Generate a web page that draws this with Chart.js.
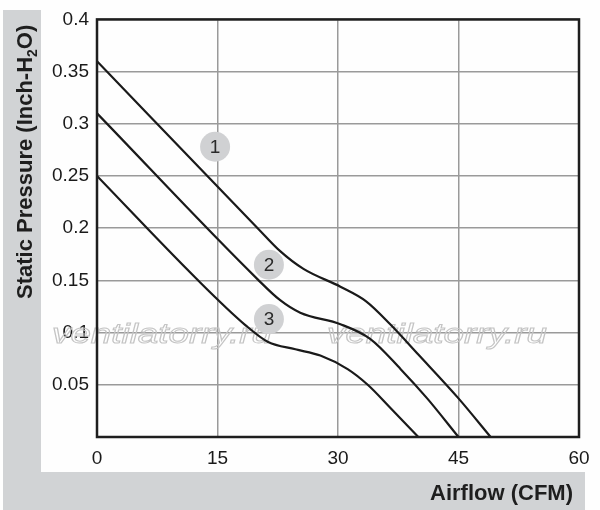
<!DOCTYPE html>
<html><head><meta charset="utf-8">
<script src="https://cdn.jsdelivr.net/npm/chart.js@4.4.1/dist/chart.umd.min.js"></script>
<style>html,body{margin:0;padding:0;background:#fefefe}#wrap{width:600px;height:510px}</style>
</head><body><div id="wrap"><canvas id="c" width="600" height="510"></canvas></div>
<script>
// Curve 1
const airflow1  = [0,    20,   22.8,  25.7,  30.3,  33.5, 36.5,  40,    45,    49];
const pressure1 = [0.36, 0.2,  0.178, 0.161, 0.144, 0.13, 0.108, 0.079, 0.037, 0];
// Curve 2
const airflow2  = [0,    20,    22.8,  25.3,  30.3,  34,    37.8,  41.1,  45];
const pressure2 = [0.31, 0.151, 0.131, 0.119, 0.108, 0.094, 0.065, 0.037, 0];
// Curve 3
const airflow3  = [0,    12.2,  18.5,  21.3,  24.7,  27.8,  31.2,  33.7, 36.5,  40];
const pressure3 = [0.25, 0.153, 0.107, 0.091, 0.084, 0.078, 0.065, 0.05, 0.028, 0];

const xTickLabels = ['0', '15', '30', '45', '60'];
const yTickLabels = ['', '0.05', '0.1', '0.15', '0.2', '0.25', '0.3', '0.35', '0.4'];

const badgeLabels = ['1', '2', '3'];
const badgeX = [14.7, 21.4, 21.4];
const badgeY = [0.278, 0.165, 0.113];

const FONT = '"Liberation Sans", Arial, Helvetica, sans-serif';

function pts(xs, ys) { return xs.map((x, i) => ({ x: x, y: ys[i] })); }

const decor = {
  id: 'decor',
  beforeDraw(chart) {
    const ctx = chart.ctx;
    ctx.save();
    ctx.fillStyle = '#fefefe';
    ctx.fillRect(0, 0, 600, 510);
    ctx.fillStyle = '#d1d3d5';
    ctx.fillRect(3, 10, 38, 500);
    ctx.fillRect(3, 472, 582, 38);
    ctx.restore();
  },
  beforeDatasetsDraw(chart) {
    const ctx = chart.ctx;
    ctx.save();
    ctx.font = 'italic 28px ' + FONT;
    ctx.strokeStyle = '#c4c4c4';
    ctx.lineWidth = 1;
    ctx.textBaseline = 'alphabetic';
    const txt = 'ventilatorry.ru';
    const w = ctx.measureText(txt).width;
    const sx = 220 / w;
    [52, 327].forEach(x0 => {
      ctx.save();
      ctx.translate(x0, 343);
      ctx.scale(sx, 1);
      ctx.strokeText(txt, 0, 0);
      ctx.restore();
    });
    ctx.restore();
  },
  afterDatasetsDraw(chart) {
    const ctx = chart.ctx;
    const a = chart.chartArea;
    ctx.save();
    ctx.strokeStyle = '#1e1e1e';
    ctx.lineWidth = 2.5;
    ctx.strokeRect(a.left, a.top, a.right - a.left, a.bottom - a.top);
    const xs = chart.scales.x, ys = chart.scales.y;
    badgeLabels.forEach((lab, i) => {
      const px = xs.getPixelForValue(badgeX[i]);
      const py = ys.getPixelForValue(badgeY[i]);
      ctx.beginPath();
      ctx.arc(px, py, 15, 0, Math.PI * 2);
      ctx.fillStyle = '#d0d1d3';
      ctx.fill();
      ctx.fillStyle = '#2a2a2a';
      ctx.font = '19px ' + FONT;
      ctx.textAlign = 'center';
      ctx.textBaseline = 'middle';
      ctx.fillText(lab, px, py + 1);
    });
    ctx.restore();
  },
  afterDraw(chart) {
    const ctx = chart.ctx;
    ctx.save();
    ctx.fillStyle = '#1e1e1e';
    ctx.translate(32, 299);
    ctx.rotate(-Math.PI / 2);
    ctx.textBaseline = 'alphabetic';
    ctx.textAlign = 'left';
    ctx.font = 'bold 22px ' + FONT;
    let x = 0;
    const p1 = 'Static Pressure (Inch-H';
    ctx.fillText(p1, x, 0); x += ctx.measureText(p1).width;
    ctx.font = 'bold 14px ' + FONT;
    ctx.fillText('2', x, 5); x += ctx.measureText('2').width;
    ctx.font = 'bold 22px ' + FONT;
    ctx.fillText('O)', x, 0);
    ctx.restore();
    ctx.save();
    ctx.fillStyle = '#1e1e1e';
    ctx.font = 'bold 22px ' + FONT;
    ctx.textAlign = 'right';
    ctx.textBaseline = 'alphabetic';
    ctx.fillText('Airflow (CFM)', 573, 500);
    ctx.restore();
  }
};

const lineStyle = {
  borderColor: '#1a1a1a',
  borderWidth: 2.2,
  pointRadius: 0,
  fill: false,
  cubicInterpolationMode: 'monotone'
};

new Chart(document.getElementById('c'), {
  type: 'line',
  data: {
    datasets: [
      Object.assign({ label: '1', data: pts(airflow1, pressure1) }, lineStyle),
      Object.assign({ label: '2', data: pts(airflow2, pressure2) }, lineStyle),
      Object.assign({ label: '3', data: pts(airflow3, pressure3) }, lineStyle)
    ]
  },
  options: {
    responsive: false,
    animation: false,
    devicePixelRatio: 1,
    layout: { padding: { left: 0, top: 9, right: 21, bottom: 0 } },
    plugins: { legend: { display: false }, tooltip: { enabled: false } },
    scales: {
      x: {
        type: 'linear', min: 0, max: 60,
        ticks: {
          stepSize: 15, padding: 10, color: '#1a1a1a',
          font: { family: FONT, size: 19 },
          callback: (v, i) => xTickLabels[i]
        },
        grid: { color: '#9a9a9a', lineWidth: 1.5, drawTicks: false },
        border: { display: false },
        afterFit(s) { s.height = 73; }
      },
      y: {
        type: 'linear', min: 0, max: 0.4,
        ticks: {
          stepSize: 0.05, padding: 8, color: '#1a1a1a',
          font: { family: FONT, size: 19 },
          callback: (v, i) => yTickLabels[i]
        },
        grid: { color: '#9a9a9a', lineWidth: 1.5, drawTicks: false },
        border: { display: false },
        afterFit(s) { s.width = 97; }
      }
    }
  },
  plugins: [decor]
});
</script>
</body></html>
